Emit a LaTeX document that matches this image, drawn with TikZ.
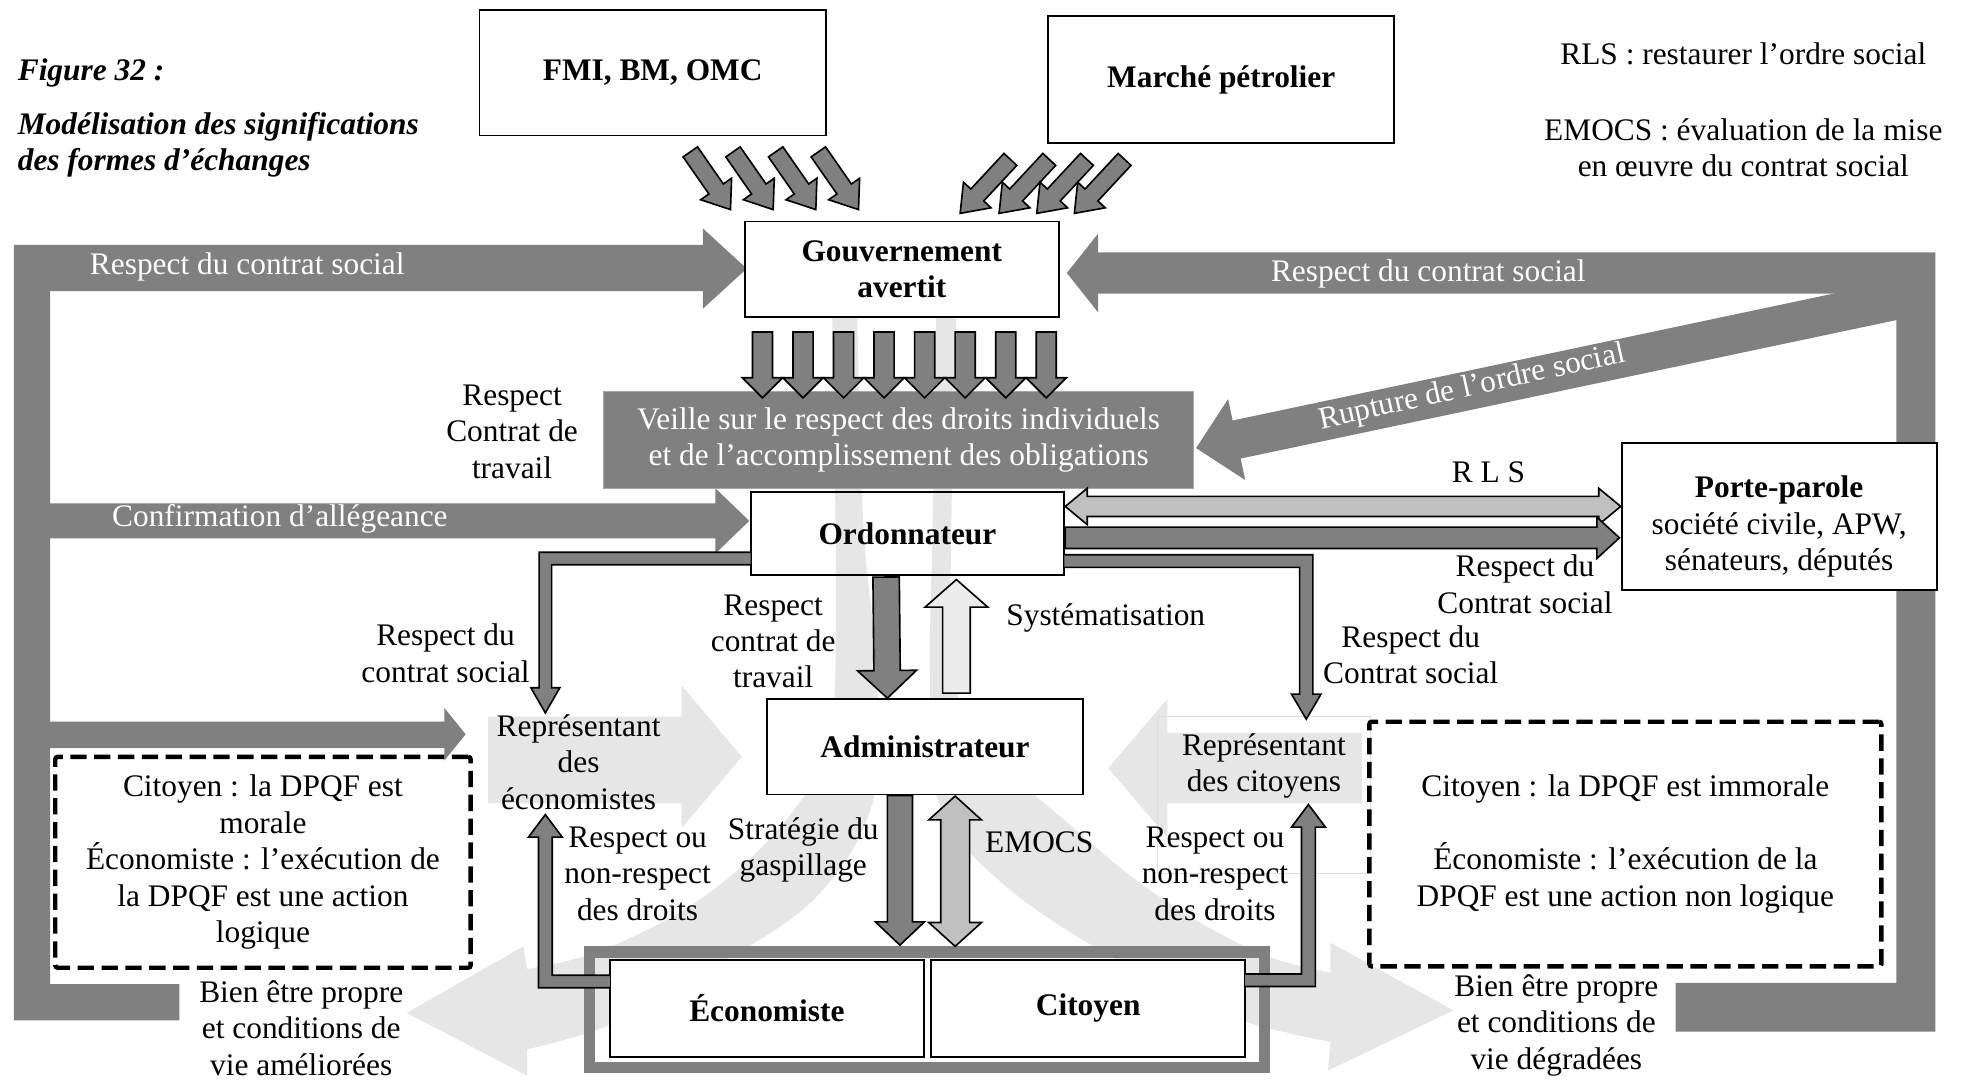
\documentclass[tikz,border=0pt]{standalone}
\usepackage{fontspec}
\setmainfont{Liberation Serif}
\usetikzlibrary{calc}

\definecolor{dg}{RGB}{128,128,128}
\definecolor{mg}{RGB}{192,192,192}
\definecolor{lg}{RGB}{230,230,230}
\definecolor{vlg}{RGB}{236,236,236}
\definecolor{faint}{RGB}{222,222,222}

% block arrow: [style]{tail}{tip}{shaft half width}{head half width}{head length}
\newcommand\blockarrow[6][]{%
  \coordinate (ba-a) at (#2);
  \coordinate (ba-b) at (#3);
  \coordinate (ba-c) at ($(ba-b)!#6!(ba-a)$);
  \path[#1] ($(ba-a)!#4!90:(ba-b)$) -- ($(ba-c)!#4!-90:(ba-a)$) -- ($(ba-c)!#5!-90:(ba-a)$)
    -- (ba-b) -- ($(ba-c)!#5!90:(ba-a)$) -- ($(ba-c)!#4!90:(ba-a)$) -- ($(ba-a)!#4!-90:(ba-b)$) -- cycle;
}
% double-headed block arrow: [style]{tip A}{tip B}{shaft half width}{head half width}{head length}
\newcommand\dblarrow[6][]{%
  \coordinate (da-p) at (#2);
  \coordinate (da-q) at (#3);
  \coordinate (da-a) at ($(da-p)!#6!(da-q)$);
  \coordinate (da-b) at ($(da-q)!#6!(da-p)$);
  \path[#1] (da-p) -- ($(da-a)!#5!90:(da-q)$) -- ($(da-a)!#4!90:(da-q)$) -- ($(da-b)!#4!-90:(da-p)$)
    -- ($(da-b)!#5!-90:(da-p)$) -- (da-q) -- ($(da-b)!#5!90:(da-p)$) -- ($(da-b)!#4!90:(da-p)$)
    -- ($(da-a)!#4!-90:(da-q)$) -- ($(da-a)!#5!-90:(da-q)$) -- cycle;
}

\begin{document}
\begin{tikzpicture}[x=1pt,y=-1pt,
  box/.style={draw, line width=1.5pt, fill=white, inner sep=0pt, align=center,
    font=\fontsize{25}{29}\selectfont\bfseries},
  txt/.style={inner sep=0pt, align=center, font=\fontsize{25}{29}\selectfont},
  wtxt/.style={txt, text=white},
  dbox/.style={draw, line width=3.5pt, dash pattern=on 13pt off 6pt, rounded corners=2pt,
    inner sep=0pt, align=center, font=\fontsize{25}{29}\selectfont},
  dark/.style={fill=dg, draw=black, line width=1.3pt},
  mid/.style={fill=mg, draw=black, line width=1.3pt},
  pale/.style={fill=vlg, draw=black, line width=1.3pt},
  slab/.style={fill=dg},
]
\useasboundingbox (0,0) rectangle (1568,860);

% ---------- pale background flows ----------
% left sweep
\fill[lg] plot[smooth, tension=0.6] coordinates {(683,250) (688,420) (699,540) (695,640) (650,715) (570,770) (490,815) (420,836)}
  -- (420,857) -- (324,807) -- (417,754) -- (420,772)
  -- plot[smooth, tension=0.6] coordinates {(420,772) (480,757) (560,715) (625,655) (660,590) (666,480) (663,250)} -- cycle;
% right sweep
\fill[lg] plot[smooth, tension=0.6] coordinates {(746,250) (743,420) (741,540) (748,640) (800,705) (890,765) (980,810) (1060,830)}
  -- (1058,853) -- (1158,805) -- (1060,751) -- (1060,775)
  -- plot[smooth, tension=0.6] coordinates {(1060,775) (1000,758) (920,712) (850,655) (790,600) (760,540) (758,420) (762,250)} -- cycle;
% representatives
\fill[lg] (389,571) -- (543,571) -- (543,546) -- (591,603) -- (543,660) -- (543,640) -- (389,640) -- cycle;
\fill[lg] (1085,584) -- (930,584) -- (930,557) -- (883,612) -- (930,667) -- (930,640) -- (1085,640) -- cycle;
\draw[faint, line width=0.8pt] (922,571) rectangle (1092,696);

% ---------- large grey loops ----------
\fill[dg] (11,195) -- (560,195) -- (560,182) -- (595,214) -- (560,246) -- (560,232) -- (40,232)
  -- (40,401) -- (570,401) -- (570,389) -- (597,415) -- (570,441) -- (570,429) -- (40,429)
  -- (40,575) -- (354,575) -- (354,564) -- (371,585) -- (354,606) -- (354,596) -- (40,596)
  -- (40,784) -- (143,784) -- (143,813) -- (11,813) -- cycle;
\fill[dg] (1542,201) -- (875,201) -- (875,186) -- (850,217.5) -- (875,249) -- (875,234) -- (1511,234)
  -- (1511,783) -- (1335,783) -- (1335,822) -- (1542,822) -- cycle;
\blockarrow[slab]{1526,236}{953,357}{15.5pt}{33pt}{33pt}

% ---------- boxes ----------
\node[box, minimum width=276pt, minimum height=100pt] (fmi) at (520,58) {FMI, BM, OMC};
\node[box, minimum width=276pt, minimum height=101pt] (marche) at (973,63.5) {Marché pétrolier};
\node[box, minimum width=250pt, minimum height=76pt] (gouv) at (718.5,214.5) {Gouvernement\\avertit};
\node[fill=dg, draw=gray!70, line width=1pt, minimum width=470pt, minimum height=77pt, inner sep=0pt,
  align=center, text=white, font=\fontsize{25}{29}\selectfont] (veille) at (716,350.5)
  {Veille sur le respect des droits individuels\\et de l’accomplissement des obligations};
\node[box, fill=none, minimum width=250pt, minimum height=66pt] (ordo) at (723,425) {Ordonnateur};
\node[box, minimum width=252pt, minimum height=76pt] (admin) at (737,595) {Administrateur};
\node[box, minimum width=251pt, minimum height=117pt] (porte) at (1417.5,411.5) {};
\node[txt] (portetxt) at ($(porte.center)+(0,8)$) {\textbf{Porte-parole}\\société civile, APW,\\sénateurs, députés};
\node[draw=dg, line width=9pt, minimum width=538pt, minimum height=92pt, inner sep=0pt] (frame) at (738.5,804.5) {};
\node[box, minimum width=250pt, minimum height=77pt] (econ) at (611,803.5) {Économiste};
\node[box, minimum width=250pt, minimum height=77pt] (cit) at (867,803.5) {Citoyen};

\node[dbox, minimum width=331pt, minimum height=168pt] (dl) at (209.5,687)
  {Citoyen : la DPQF est\\morale\\Économiste : l’exécution de\\la DPQF est une action\\logique};
\node[dbox, minimum width=408pt, minimum height=195pt] (dr) at (1295,672.5)
  {Citoyen : la DPQF est immorale\\[29pt]Économiste : l’exécution de la\\DPQF est une action non logique};

% ---------- outlined arrows ----------
\foreach \k in {0,...,7}{%
  \pgfmathsetmacro\xx{607.5+32.3*\k}
  \blockarrow[dark]{\xx,264.5}{\xx,317}{8pt}{16pt}{16pt}
}
\foreach \x in {550,584,618,652}{%
  \blockarrow[dark]{\x,121}{\x+32,167}{7pt}{15pt}{20pt}
}
\foreach \x in {805,836,866,896}{%
  \blockarrow[dark]{\x,127}{\x-40,170}{7pt}{15pt}{20pt}
}
\blockarrow[dark]{$(ordo.south)+(-17,1)$}{$(admin.north)+(-30,0)$}{10.5pt}{23.5pt}{22pt}
\blockarrow[pale]{$(admin.north)+(25,-4)$}{$(ordo.south)+(39,3)$}{11pt}{25pt}{22pt}
\blockarrow[dark]{$(admin.south)+(-20,0)$}{$(frame.north)+(-21.5,-1)$}{10pt}{19.5pt}{18.5pt}
\dblarrow[mid]{$(admin.south)+(24,0.5)$}{$(frame.north)+(22.5,0)$}{11.5pt}{21pt}{19pt}
\dblarrow[mid]{$(ordo.east)+(0,-21.5)$}{$(porte.west)+(0,-8)$}{8pt}{14.5pt}{17.5pt}
\blockarrow[dark]{$(ordo.east)+(0,3.5)$}{$(porte.west)+(-1,17)$}{8.5pt}{16.5pt}{18pt}

% bent arrows towards and from the representatives
\draw[dark] (598,440) -- (429.5,440) -- (429.5,548) -- (423,548) -- (434.5,568) -- (446,548)
  -- (439.5,548) -- (439.5,450) -- (598,450);
\draw[dark] (848,442) -- (1046,442) -- (1046,553) -- (1052.5,553) -- (1040.75,573) -- (1029,553)
  -- (1035.5,553) -- (1035.5,452) -- (848,452);
\draw[dark] (486,787) -- (429,787) -- (429,667) -- (421,667) -- (434.5,649) -- (448,667)
  -- (440,667) -- (440,777) -- (486,777);
\draw[dark] (992,786) -- (1048,786) -- (1048,659) -- (1056,659) -- (1042.5,641) -- (1029,659)
  -- (1037,659) -- (1037,776) -- (992,776);

% ---------- texts ----------
\node[txt, anchor=west, font=\fontsize{25}{29}\selectfont\bfseries\itshape] (fig) at (14,58) {Figure 32 :};
\node[txt, anchor=west, align=left, font=\fontsize{25}{29}\selectfont\bfseries\itshape] (title) at (14,115.5)
  {Modélisation des significations\\des formes d’échanges};
\node[txt] (rls) at (1389,43) {RLS : restaurer l’ordre social};
\node[txt] (emocs) at (1389,117.5) {EMOCS : évaluation de la mise\\en œuvre du contrat social};

\node[wtxt] (w1) at (197,213) {Respect du contrat social};
\node[wtxt] (w2) at (1138,218) {Respect du contrat social};
\node[wtxt] (w3) at (223,413) {Confirmation d’allégeance};
\node[wtxt, rotate=12.5] (w4) at (1173,309) {Rupture de l’ordre social};

\node[txt] (l1) at (408,344) {Respect\\Contrat de\\travail};
\node[txt] (l2) at (1186,376) {R L S};
\node[txt] (l3) at (1215,465.5) {Respect du\\Contrat social};
\node[txt] (l4) at (355,520.5) {Respect du\\contrat social};
\node[txt] (l5) at (616,511) {Respect\\contrat de\\travail};
\node[txt] (l6) at (881,492) {Systématisation};
\node[txt] (l7) at (1124,521.5) {Respect du\\Contrat social};
\node[txt] (l8) at (461,607) {Représentant\\des\\économistes};
\node[txt] (l9) at (1007,610.5) {Représentant\\des citoyens};
\node[txt] (l10) at (508,696) {Respect ou\\non-respect\\des droits};
\node[txt] (l11) at (968,696) {Respect ou\\non-respect\\des droits};
\node[txt] (l12) at (640,677) {Stratégie du\\gaspillage};
\node[txt] (l13) at (828,671) {EMOCS};
\node[txt] (l14) at (240,819) {Bien être propre\\et conditions de\\vie améliorées};
\node[txt] (l15) at (1240,817) {Bien être propre\\et conditions de\\vie dégradées};
\end{tikzpicture}
\end{document}
